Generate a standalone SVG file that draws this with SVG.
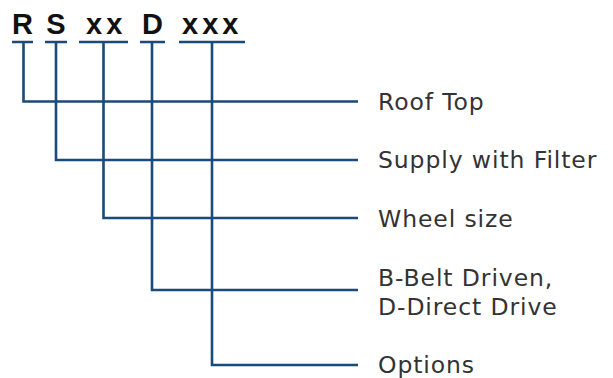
<svg xmlns="http://www.w3.org/2000/svg" width="613" height="378" viewBox="0 0 613 378">
<style>
.code{font-family:"Liberation Sans",Arial,sans-serif;font-weight:bold;font-size:29px;fill:#111;}
.lbl{font-family:"DejaVu Sans",sans-serif;font-size:23.5px;fill:#333;letter-spacing:0.9px;}
.ln{fill:none;stroke:#1a4b7c;stroke-width:2.6;stroke-linecap:butt;stroke-linejoin:miter;}
</style>
<rect width="613" height="378" fill="#fff"/>
<g id="code-R"><text class="code" x="22.5" y="34" text-anchor="middle">R</text></g>
<g id="code-S"><text class="code" x="56" y="34" text-anchor="middle">S</text></g>
<g id="code-xx"><text class="code" x="86" y="34" letter-spacing="4">xx</text></g>
<g id="code-D"><text class="code" x="152.5" y="34" text-anchor="middle">D</text></g>
<g id="code-xxx"><text class="code" x="182" y="34" letter-spacing="4">xxx</text></g>
<g id="label-roof"><text class="lbl" x="378" y="110">Roof Top</text></g>
<g id="label-supply"><text class="lbl" x="378" y="168">Supply with Filter</text></g>
<g id="label-wheel"><text class="lbl" x="378" y="227">Wheel size</text></g>
<g id="label-drive"><text class="lbl" x="378" y="286">B-Belt Driven,</text><text class="lbl" x="378" y="315">D-Direct Drive</text></g>
<g id="label-options"><text class="lbl" x="378" y="373">Options</text></g>
<g id="connectors">
<path class="ln" d="M12 42H33M45 42H67M79 42H128M140 42H165M179 42H245"/>
<path class="ln" d="M23.5 42V101.5H358"/>
<path class="ln" d="M56 42V160H358"/>
<path class="ln" d="M103.5 42V218H358"/>
<path class="ln" d="M152 42V290H358"/>
<path class="ln" d="M212 42V365H358"/>
</g>
</svg>
